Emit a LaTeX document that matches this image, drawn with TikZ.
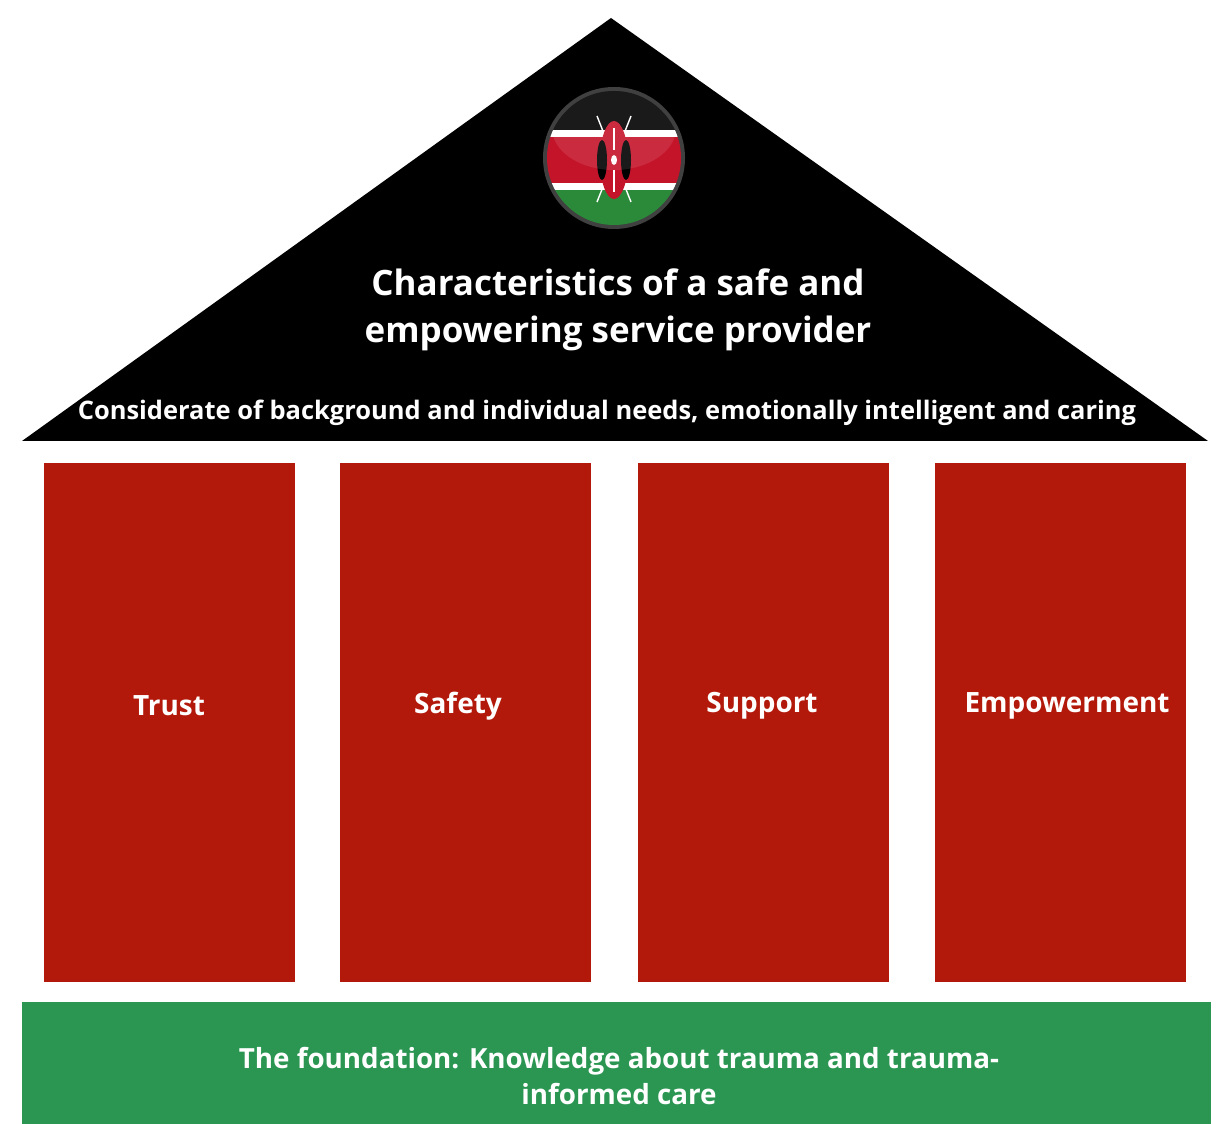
\documentclass[tikz,border=0pt]{standalone}
\usepackage{fontspec}
\setmainfont{Open Sans}
\usetikzlibrary{calc}
\definecolor{pillarred}{HTML}{B3190B}
\definecolor{basegreen}{HTML}{2A9652}
\definecolor{flagred}{HTML}{C4142A}
\definecolor{flaggreen}{HTML}{2A8A3A}

\begin{document}
\begin{tikzpicture}[x=0.02cm,y=-0.02cm,
  pillar/.style={fill=pillarred},
  heading/.style={text=white,align=center,font=\fontsize{19.9}{27}\selectfont\bfseries},
  traits/.style={text=white,font=\fontsize{14.5}{16}\selectfont\bfseries},
  pillarlabel/.style={text=white,font=\fontsize{15.9}{19}\selectfont\bfseries},
  basetext/.style={text=white,align=center,font=\fontsize{15.8}{21}\selectfont\bfseries}]
  \useasboundingbox (0,0) rectangle (1229,1124);
  % roof
  \fill (22,441) -- (611,18) -- (1208,441) -- cycle;
  \node[heading] (roof) at (618,310) {Characteristics of a safe and\\empowering service provider};
  \node[traits] (needs) at (607,413) {Considerate of background and individual needs, emotionally intelligent and caring};
  % flag badge
  \fill[black!75] (614,158) circle (71);
  \begin{scope}
    \clip (614,158) circle (67);
    \fill[black] (540,85) rectangle (690,130);
    \fill[white] (540,130) rectangle (690,137);
    \fill[flagred] (540,137) rectangle (690,183);
    \fill[white] (540,183) rectangle (690,190);
    \fill[flaggreen] (540,190) rectangle (690,230);
    \draw[white,line width=0.8pt] (597,116) -- (631,202);
    \draw[white,line width=0.8pt] (631,116) -- (597,202);
    \fill[flagred] (614,160) ellipse (14 and 39);
    \fill[black] (602,160) ellipse (5 and 20);
    \fill[black] (626,160) ellipse (5 and 20);
    \draw[white,line width=0.9pt] (614,128) -- (614,150) (614,170) -- (614,192);
    \fill[white] (614,160) ellipse (3 and 5);
    \fill[white,opacity=0.1] (614,128) ellipse (62 and 42);
  \end{scope}
  % pillars
  \foreach \x/\name/\c in {44/Trust/169, 340/Safety/458, 638/Support/762, 935/Empowerment/1067} {
    \fill[pillar] (\x,463) rectangle ++(251,519);
    \node[pillarlabel] (p-\name) at (\c,706) {\name};
  }
  % foundation
  \fill[basegreen] (22,1002) rectangle (1211,1124);
  \node[basetext] (base) at (619,1076) {The foundation: Knowledge about trauma and trauma-\\informed care};
\end{tikzpicture}
\end{document}
